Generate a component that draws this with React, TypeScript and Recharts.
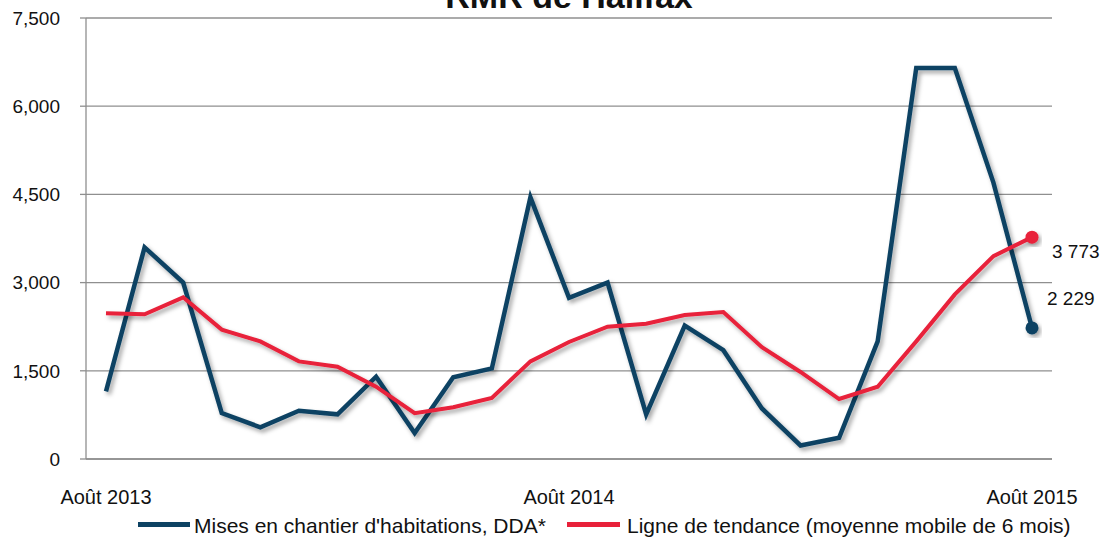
import React from 'react';
import { LineChart, Line, XAxis, YAxis, CartesianGrid } from 'recharts';

const months = [
  'Août 2013', 'Sept. 2013', 'Oct. 2013', 'Nov. 2013', 'Déc. 2013',
  'Janv. 2014', 'Févr. 2014', 'Mars 2014', 'Avr. 2014', 'Mai 2014', 'Juin 2014', 'Juil. 2014',
  'Août 2014', 'Sept. 2014', 'Oct. 2014', 'Nov. 2014', 'Déc. 2014',
  'Janv. 2015', 'Févr. 2015', 'Mars 2015', 'Avr. 2015', 'Mai 2015', 'Juin 2015', 'Juil. 2015',
  'Août 2015',
];

const starts = [1150, 3600, 3000, 780, 540, 820, 760, 1400, 440, 1390, 1540, 4450, 2740, 3000, 760, 2270, 1850, 860, 230, 360, 2000, 6650, 6650, 4700, 2229];
const trend = [2480, 2460, 2750, 2200, 2000, 1660, 1570, 1230, 780, 880, 1040, 1660, 1990, 2250, 2300, 2450, 2500, 1900, 1480, 1020, 1230, 2000, 2800, 3450, 3773];

const yTicks = [0, 1500, 3000, 4500, 6000, 7500];
const title = 'RMR de Halifax';
const seriesNames = ["Mises en chantier d'habitations, DDA*", 'Ligne de tendance (moyenne mobile de 6 mois)'];
const endLabels = ['2 229', '3 773'];

const BLUE = '#0d4263';
const RED = '#e8213a';
const GRID = '#8f8f8f';
const FONT = '"Liberation Sans", Arial, sans-serif';

const data = months.map((m, i) => ({ m, starts: starts[i], trend: trend[i] }));

const makeDot = (color: string, label: string, dx: number, dy: number) => (props: any) => {
  const { cx, cy, index } = props;
  if (index !== data.length - 1) return <g key={`d${index}`} />;
  return (
    <g key={`d${index}`}>
      <circle cx={cx} cy={cy} r={6.5} fill={color} stroke="none" filter="url(#shadow)" />
      <text x={cx + dx} y={cy + dy} fontSize={19} fontFamily={FONT} fill="#111" dominantBaseline="central">
        {label}
      </text>
    </g>
  );
};

export default function App() {
  return (
    <div style={{ position: 'absolute', left: 0, top: 0, width: 1104, height: 539, background: '#fff', overflow: 'hidden', fontFamily: FONT }}>
      <div style={{ position: 'absolute', left: 0, width: 1138, top: -21, textAlign: 'center', fontSize: 34, lineHeight: '34px', fontWeight: 'bold', color: '#111' }}>
        {title}
      </div>
      <LineChart width={1104} height={539} data={data} margin={{ top: 18, right: 52, bottom: 0, left: 0 }}>
        <defs>
          <filter id="shadow" x="-20%" y="-20%" width="140%" height="140%">
            <feDropShadow dx="2.5" dy="3" stdDeviation="2" floodColor="#000" floodOpacity="0.35" />
          </filter>
        </defs>
        <CartesianGrid vertical={false} stroke={GRID} strokeWidth={1.3} />
        <XAxis
          dataKey="m"
          interval={11}
          padding={{ left: 20, right: 20 }}
          tickLine={false}
          axisLine={{ stroke: GRID, strokeWidth: 1.3 }}
          tick={{ fontSize: 20, fill: '#111', fontFamily: FONT }}
          tickMargin={25}
          height={80}
        />
        <YAxis
          domain={[0, 7500]}
          ticks={yTicks}
          width={86}
          tickSize={6}
          tickMargin={20}
          tickLine={{ stroke: GRID, strokeWidth: 1.3 }}
          axisLine={{ stroke: GRID, strokeWidth: 1.3 }}
          tick={{ fontSize: 19, fill: '#111', fontFamily: FONT }}
          tickFormatter={(v: number) => v.toLocaleString('en-US')}
        />
        <Line
          type="linear"
          dataKey="starts"
          stroke={BLUE}
          strokeWidth={4.5}
          filter="url(#shadow)"
          dot={makeDot(BLUE, endLabels[0], 15, -29)}
          activeDot={false}
          isAnimationActive={false}
        />
        <Line
          type="linear"
          dataKey="trend"
          stroke={RED}
          strokeWidth={4}
          filter="url(#shadow)"
          dot={makeDot(RED, endLabels[1], 20, 14)}
          activeDot={false}
          isAnimationActive={false}
        />
      </LineChart>
      <div style={{ position: 'absolute', left: 138, top: 522, width: 52, height: 4.5, background: BLUE }} />
      <div style={{ position: 'absolute', left: 194, top: 515, fontSize: 21, lineHeight: '22px', color: '#111', whiteSpace: 'nowrap' }}>
        {seriesNames[0]}
      </div>
      <div style={{ position: 'absolute', left: 567, top: 522, width: 53, height: 4.5, background: RED }} />
      <div style={{ position: 'absolute', left: 627, top: 515, fontSize: 21, lineHeight: '22px', color: '#111', whiteSpace: 'nowrap' }}>
        {seriesNames[1]}
      </div>
    </div>
  );
}
